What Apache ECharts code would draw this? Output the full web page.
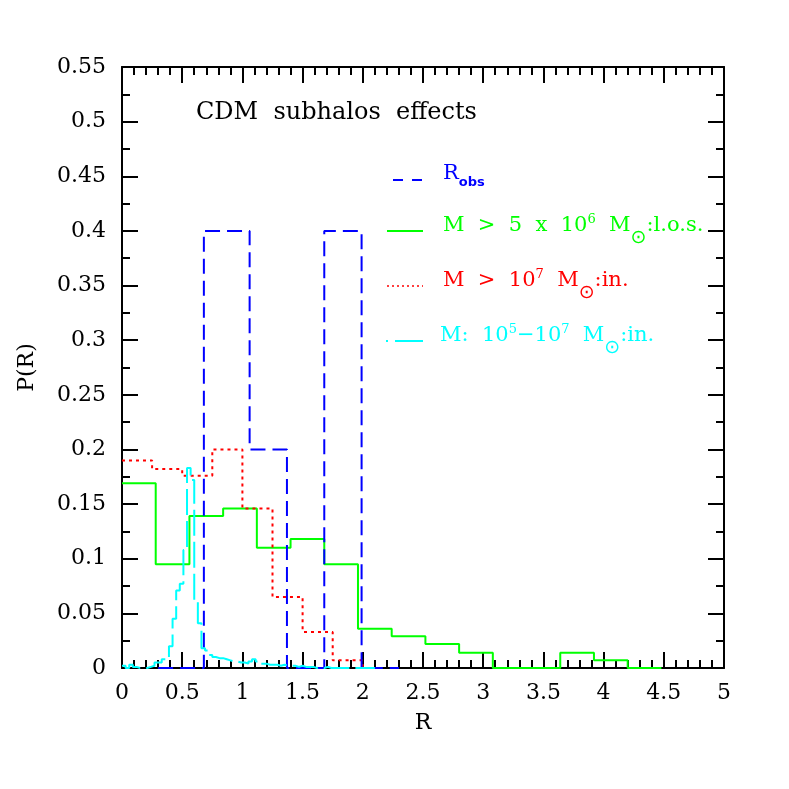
<!DOCTYPE html>
<html>
<head>
<meta charset="utf-8">
<script src="https://cdn.jsdelivr.net/npm/echarts@6/dist/echarts.min.js"></script>
<style>
html,body{margin:0;padding:0;background:#fff;}
#chart{width:789px;height:789px;}
</style>
</head>
<body>
<div id="chart"></div>
<script>
// ---- data ----
const xTickLabels = ['0','0.5','1','1.5','2','2.5','3','3.5','4','4.5','5'];
const yTickLabels = ['0','0.05','0.1','0.15','0.2','0.25','0.3','0.35','0.4','0.45','0.5','0.55'];

// R_obs (blue dashed)
const robsEdges  = [0.30, 0.68, 1.06, 1.37, 1.68, 1.99, 2.30];
const robsValues = [0, 0.40, 0.20, 0, 0.40, 0];

// M > 5x10^6 Msun : l.o.s. (green solid)
const losEdges  = [0, 0.28, 0.56, 0.84, 1.12, 1.40, 1.68, 1.96, 2.24, 2.52, 2.80, 3.08, 3.36, 3.64, 3.92, 4.20, 4.48];
const losValues = [0.169, 0.095, 0.139, 0.146, 0.110, 0.118, 0.095, 0.036, 0.029, 0.022, 0.014, 0, 0, 0.014, 0.007, 0];

// M > 10^7 Msun : in. (red dotted)
const inEdges  = [0, 0.25, 0.50, 0.75, 1.00, 1.25, 1.50, 1.75, 2.00];
const inValues = [0.190, 0.182, 0.176, 0.200, 0.146, 0.065, 0.033, 0.007];

// M: 10^5-10^7 Msun : in. (cyan long dash), bins of 0.03 starting at 0
const smallStart = 0;
const smallBin = 0.03;
const smallValues = [
  0.002, 0.000, 0.003, 0.001, 0.000, 0.000, 0.000, 0.001, 0.002, 0.005,
  0.005, 0.008, 0.010, 0.020, 0.045, 0.071, 0.077, 0.108, 0.183, 0.172,
  0.062, 0.041, 0.018, 0.016, 0.012, 0.010, 0.009, 0.009, 0.008, 0.007,
  0.006, 0.006, 0.005, 0.005, 0.004, 0.006, 0.008, 0.006, 0.004, 0.004,
  0.003, 0.003, 0.003, 0.002, 0.003, 0.002, 0.002, 0.002, 0.001, 0.002,
  0.001, 0.001, 0.001, 0.000, 0.001, 0.000, 0.001, 0.000, 0.000, 0.000,
  0.000, 0.000, 0.000, 0.000, 0.000, 0.000, 0.000, 0.000, 0.000, 0.000
];

// ---- build step outlines ----
function steps(edges, values, dropEnd) {
  const pts = [];
  for (let i = 0; i < values.length; i++) {
    pts.push([edges[i], values[i]]);
    pts.push([edges[i + 1], values[i]]);
  }
  if (dropEnd) pts.push([edges[values.length], 0]);
  return pts;
}
const smallEdges = smallValues.map((_, i) => +(smallStart + i * smallBin).toFixed(4));
smallEdges.push(+(smallStart + smallValues.length * smallBin).toFixed(4));

const FONT = '"DejaVu Serif", "Liberation Serif", serif';

function axisCommon(showLabel) {
  return {
    axisLine: { show: true, onZero: false, lineStyle: { color: '#000', width: 2 } },
    axisTick: { show: true, inside: true, length: 16, lineStyle: { color: '#000', width: 2 } },
    minorTick: { show: true, length: 8, lineStyle: { color: '#000', width: 2 } },
    splitLine: { show: false },
    minorSplitLine: { show: false },
    axisLabel: { show: showLabel, color: '#000', fontFamily: FONT, fontSize: 22 }
  };
}

const chart = echarts.init(document.getElementById('chart'), null, { renderer: 'canvas' });

const xBottom = Object.assign(axisCommon(true), {
  type: 'value', position: 'bottom', min: 0, max: 5, interval: 0.5,
  name: 'R', nameLocation: 'middle', nameGap: 44,
  nameTextStyle: { color: '#000', fontFamily: FONT, fontSize: 22 }
});
xBottom.minorTick.splitNumber = 5;
xBottom.axisLabel.margin = 14;
xBottom.axisLabel.formatter = (v) => xTickLabels[Math.round(v / 0.5)];

const xTop = Object.assign(axisCommon(false), {
  type: 'value', position: 'top', min: 0, max: 5, interval: 0.5
});
xTop.minorTick.splitNumber = 5;

const yLeft = Object.assign(axisCommon(true), {
  type: 'value', position: 'left', min: 0, max: 0.55, interval: 0.05,
  name: 'P(R)', nameLocation: 'middle', nameGap: 84, nameRotate: 90,
  nameTextStyle: { color: '#000', fontFamily: FONT, fontSize: 22 }
});
yLeft.minorTick.splitNumber = 2;
yLeft.axisLabel.margin = 16;
yLeft.axisLabel.formatter = (v) => yTickLabels[Math.round(v / 0.05)];

const yRight = Object.assign(axisCommon(false), {
  type: 'value', position: 'right', min: 0, max: 0.55, interval: 0.05
});
yRight.minorTick.splitNumber = 2;

function lineSeries(name, data, color, type, z) {
  return {
    name: name, type: 'line', data: data, xAxisIndex: 0, yAxisIndex: 0,
    showSymbol: false, symbol: 'none', clip: false, z: z,
    lineStyle: { color: color, width: 2, type: type },
    emphasis: { disabled: true }, silent: true
  };
}

const legStyle = {
  n: { fontFamily: FONT, fontSize: 21, lineHeight: 24, verticalAlign: 'middle' },
  sup: { fontFamily: FONT, fontSize: 13, lineHeight: 14, verticalAlign: 'middle', padding: [0, 0, 12, 0] },
  sub: { fontFamily: '"DejaVu Sans", sans-serif', fontSize: 19, lineHeight: 20, verticalAlign: 'middle', padding: [24, 0, 0, 0] },
  obs: { fontFamily: '"DejaVu Sans", sans-serif', fontSize: 13, fontWeight: 'bold', lineHeight: 14, verticalAlign: 'middle', padding: [18, 0, 0, 0] }
};
function richText(color) {
  const r = {};
  for (const k in legStyle) r[k] = Object.assign({ fill: color }, legStyle[k]);
  return r;
}

const option = {
  animation: false,
  backgroundColor: '#fff',
  grid: { left: 122, right: 65, top: 67, bottom: 121, containLabel: false },
  xAxis: [xBottom, xTop],
  yAxis: [yLeft, yRight],
  series: [
    lineSeries('los', steps(losEdges, losValues, false), '#00ff00', 'solid', 2),
    lineSeries('in', steps(inEdges, inValues, true), '#ff0000', [3, 4], 3),
    lineSeries('robs', steps(robsEdges, robsValues, false), '#0000ff', [15, 7], 4),
    lineSeries('small', steps(smallEdges, smallValues, false), '#00ffff', [26, 6], 5)
  ],
  graphic: [
    { type: 'text', left: 196, top: 101, silent: true,
      style: { text: 'CDM  subhalos  effects', fill: '#000', font: '24px ' + FONT } },
    // legend samples
    { type: 'line', silent: true, shape: { x1: 393, y1: 180, x2: 423, y2: 180 },
      style: { stroke: '#0000ff', lineWidth: 2, lineDash: [10, 9] } },
    { type: 'line', silent: true, shape: { x1: 387, y1: 231, x2: 423, y2: 231 },
      style: { stroke: '#00ff00', lineWidth: 2 } },
    { type: 'line', silent: true, shape: { x1: 387, y1: 286, x2: 423, y2: 286 },
      style: { stroke: '#ff0000', lineWidth: 1.5, lineDash: [2, 3] } },
    { type: 'line', silent: true, shape: { x1: 386, y1: 341, x2: 423, y2: 341 },
      style: { stroke: '#00ffff', lineWidth: 2, lineDash: [2, 7, 30, 2] } },
    // legend labels
    { type: 'text', x: 443, y: 174, silent: true,
      style: { text: '{n|R}{obs|obs}', rich: richText('#0000ff'), verticalAlign: 'middle', align: 'left' } },
    { type: 'text', x: 443, y: 226, silent: true,
      style: { text: '{n|M  >  5  x  10}{sup|6}{n|  M}{sub|⊙}{n|:l.o.s.}', rich: richText('#00ff00'), verticalAlign: 'middle', align: 'left' } },
    { type: 'text', x: 443, y: 281, silent: true,
      style: { text: '{n|M  >  10}{sup|7}{n|  M}{sub|⊙}{n|:in.}', rich: richText('#ff0000'), verticalAlign: 'middle', align: 'left' } },
    { type: 'text', x: 440, y: 336, silent: true,
      style: { text: '{n|M:  10}{sup|5}{n|−10}{sup|7}{n|  M}{sub|⊙}{n|:in.}', rich: richText('#00ffff'), verticalAlign: 'middle', align: 'left' } }
  ]
};
chart.setOption(option);
</script>
</body>
</html>
